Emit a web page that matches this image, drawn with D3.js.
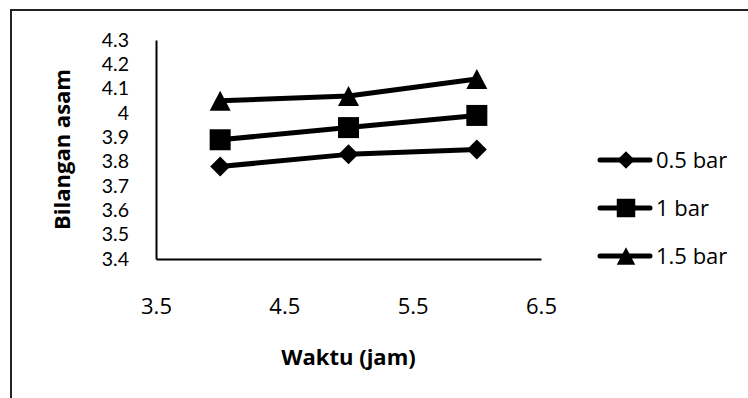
<!DOCTYPE html>
<html>
<head>
<meta charset="utf-8">
<script src="https://cdn.jsdelivr.net/npm/d3@7"></script>
<style>
  html, body { margin: 0; padding: 0; background: #fff; }
  svg { display: block; }
  text { font-family: "Open Sans", sans-serif; fill: #000; }
</style>
</head>
<body>
<svg id="chart" width="748" height="398"></svg>
<script>
// Acid number (bilangan asam) over time at three pressures
const waktu = [4, 5, 6];
const seriesNames = ["0.5 bar", "1 bar", "1.5 bar"];
const bar05 = [3.78, 3.83, 3.85];
const bar10 = [3.89, 3.94, 3.99];
const bar15 = [4.05, 4.07, 4.14];
const markerShapes = ["diamond", "square", "triangle"];
const yTicks = [3.4, 3.5, 3.6, 3.7, 3.8, 3.9, 4.0, 4.1, 4.2, 4.3];
const xTicks = [3.5, 4.5, 5.5, 6.5];

const seriesValues = [bar05, bar10, bar15];

const svg = d3.select("#chart");

// chart frame
svg.append("rect")
  .attr("x", 11).attr("y", 10)
  .attr("width", 760).attr("height", 420)
  .attr("fill", "#fff")
  .attr("stroke", "#222").attr("stroke-width", 2);

const x = d3.scaleLinear().domain([3.5, 6.5]).range([156, 541]);
const y = d3.scaleLinear().domain([3.4, 4.3]).range([259, 40]);

// y axis (compact font so the tightly spaced labels stay clear of each other)
const yAxis = svg.append("g")
  .attr("transform", `translate(${x(3.5)},0)`)
  .call(d3.axisLeft(y).tickValues(yTicks).tickSize(0).tickPadding(27)
    .tickFormat(d => d3.format("")(+d.toFixed(1))));
yAxis.select(".domain").attr("stroke", "#000").attr("stroke-width", 2);
yAxis.selectAll("text")
  .attr("font-size", 19.5)
  .style("font-family", "Lato, 'Open Sans', sans-serif");

// x axis
const xAxis = svg.append("g")
  .attr("transform", `translate(0,${y(3.4)})`)
  .call(d3.axisBottom(x).tickValues(xTicks).tickSize(0).tickPadding(39)
    .tickFormat(d => d.toFixed(1)));
xAxis.select(".domain").attr("stroke", "#000").attr("stroke-width", 2);
xAxis.selectAll("text").attr("font-size", 22).attr("font-family", "Open Sans");

// axis titles
svg.append("text")
  .attr("x", (x(3.5) + x(6.5)) / 2).attr("y", 357)
  .attr("dy", "0.35em")
  .attr("text-anchor", "middle")
  .attr("font-size", 22).attr("font-weight", "bold")
  .text("Waktu (jam)");

svg.append("text")
  .attr("transform", `translate(62,${(y(3.4) + y(4.3)) / 2}) rotate(-90)`)
  .attr("dy", "0.35em")
  .attr("text-anchor", "middle")
  .attr("font-size", 22).attr("font-weight", "bold")
  .text("Bilangan asam");

// marker path generator (centred at 0,0)
function markerPath(shape) {
  if (shape === "diamond") return "M0,-10L10,0L0,10L-10,0Z";
  if (shape === "square") return "M-10.5,-10.5H10.5V10.5H-10.5Z";
  return "M0,-10L10.5,10L-10.5,10Z";
}

const line = d3.line()
  .x((d, i) => x(waktu[i]))
  .y(d => y(d));

seriesValues.forEach((vals, s) => {
  const g = svg.append("g");
  g.append("path")
    .attr("d", line(vals))
    .attr("fill", "none")
    .attr("stroke", "#000")
    .attr("stroke-width", 5)
    .attr("stroke-linecap", "round")
    .attr("stroke-linejoin", "round");
  g.selectAll("path.marker")
    .data(vals)
    .join("path")
    .attr("class", "marker")
    .attr("transform", (d, i) => `translate(${x(waktu[i])},${y(d)})`)
    .attr("d", markerPath(markerShapes[s]))
    .attr("fill", "#000");
});

// legend
const legendRows = [160, 208, 256];
seriesNames.forEach((name, s) => {
  const g = svg.append("g").attr("transform", `translate(0,${legendRows[s]})`);
  g.append("line")
    .attr("x1", 600).attr("x2", 650).attr("y1", 0).attr("y2", 0)
    .attr("stroke", "#000").attr("stroke-width", 5)
    .attr("stroke-linecap", "round");
  g.append("path")
    .attr("transform", "translate(626,0) scale(0.88)")
    .attr("d", markerPath(markerShapes[s]))
    .attr("fill", "#000");
  g.append("text")
    .attr("x", 656).attr("y", 0).attr("dy", "0.36em")
    .attr("font-size", 22)
    .text(name);
});
</script>
</body>
</html>
